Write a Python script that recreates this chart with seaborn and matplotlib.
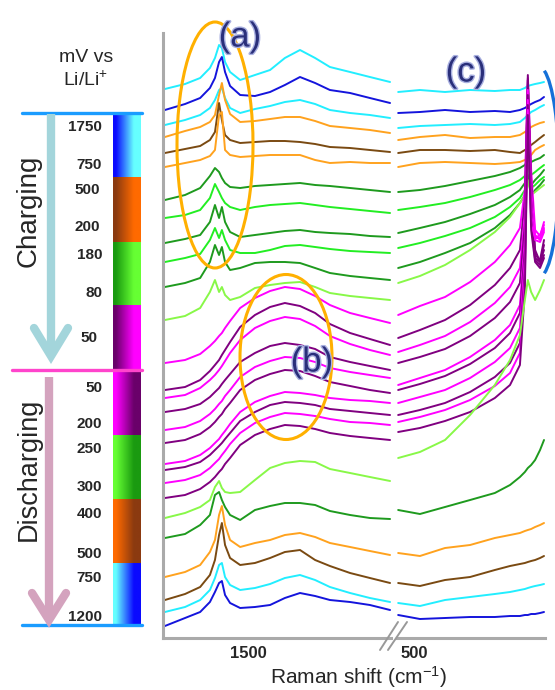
import numpy as np
import pandas as pd
import matplotlib
matplotlib.use("Agg")
import matplotlib.pyplot as plt
import seaborn as sns
from matplotlib.patches import Ellipse, Arc
import matplotlib.patheffects as pe

# ---------------- data ----------------
left_shift = [1764, 1700, 1652, 1621, 1605, 1592, 1583, 1573, 1557, 1525,
              1478, 1430, 1383, 1335, 1287, 1240, 1176, 1113, 1049]
right_shift = [548, 482, 406, 330, 255, 209, 179, 164, 155, 145, 133, 118, 106]

spectrum_names = ["ch1750", "ch1500", "ch750", "ch500", "ch300", "ch200",
                  "ch180", "ch150", "ch120", "ch100", "ch90", "ch80",
                  "ch50a", "ch50b", "ch50c", "ch50d", "ch50e",
                  "dis50a", "dis50b", "dis100", "dis150", "dis200",
                  "dis250", "dis300", "dis400", "dis500", "dis750", "dis1200"]

CY, BL, OR, BR = "#22EEFF", "#1414DC", "#FFA21E", "#7A4A12"
DG, BG, LG, MG, PU = "#1E9A1E", "#22EE22", "#88F848", "#FF00FF", "#800080"
spectrum_colors = [CY, BL, CY, OR, BR, OR,
                   DG, BG, DG, BG, DG, LG,
                   MG, PU, MG, PU, MG, PU, MG, PU, MG, PU,
                   LG, DG, OR, BR, CY, BL]

# intensities (a.u., stacked offsets) sampled at left_shift
top_left = [
    [551, 556, 562, 572, 582, 595, 592, 578, 568, 560, 565, 570, 582, 590, 582, 573, 568, 563, 558],
    [530, 536, 542, 552, 562, 578, 583, 568, 554, 545, 544, 548, 555, 563, 557, 550, 547, 542, 537],
    [515, 520, 525, 532, 540, 550, 552, 542, 532, 527, 531, 534, 538, 540, 536, 530, 527, 525, 522],
    [503, 509, 513, 518, 525, 545, 557, 540, 526, 518, 519, 521, 523, 523, 519, 514, 512, 510, 507],
    [487, 491, 494, 500, 508, 537, 520, 505, 500, 497, 498, 499, 499, 498, 496, 493, 492, 490, 488],
    [473, 477, 480, 484, 490, 525, 528, 490, 485, 483, 484, 485, 485, 485, 480, 477, 478, 477, 477],
]
green_left = [
    [440, 445, 452, 464, 472, 468, 462, 457, 453, 452, 454, 455, 456, 457, 455, 454, 452, 450, 448],
    [422, 425, 430, 442, 456, 448, 442, 437, 433, 430, 433, 435, 436, 437, 435, 433, 431, 429, 427],
    [397, 401, 405, 418, 435, 422, 433, 418, 408, 403, 405, 407, 409, 410, 408, 407, 406, 404, 403],
    [378, 382, 386, 400, 412, 402, 410, 400, 390, 387, 387, 390, 394, 395, 393, 391, 389, 388, 387],
    [353, 357, 362, 378, 395, 385, 393, 378, 370, 372, 377, 378, 378, 377, 372, 367, 364, 362, 360],
    [320, 324, 332, 348, 360, 348, 353, 345, 340, 343, 352, 355, 357, 358, 353, 347, 344, 342, 340],
]
lithiated_left = [
    [277, 280, 286, 294, 299, 304, 307, 312, 319, 332, 342, 349, 353, 351, 344, 335, 327, 322, 317],
    [250, 253, 260, 269, 275, 280, 285, 290, 298, 313, 325, 333, 337, 334, 327, 316, 307, 301, 295],
    [242, 245, 252, 260, 265, 270, 274, 279, 287, 300, 312, 319, 323, 321, 314, 304, 296, 290, 285],
    [228, 231, 236, 243, 248, 252, 256, 260, 266, 278, 287, 294, 297, 295, 291, 283, 278, 274, 270],
    [210, 213, 219, 226, 231, 236, 239, 244, 250, 263, 273, 279, 283, 282, 278, 272, 268, 265, 262],
    [197, 200, 206, 213, 218, 223, 226, 231, 237, 250, 260, 266, 270, 269, 264, 258, 254, 250, 247],
    [176, 179, 185, 192, 197, 201, 205, 209, 216, 228, 238, 244, 248, 247, 245, 242, 240, 239, 237],
    [170, 173, 178, 185, 190, 194, 197, 201, 207, 219, 228, 235, 238, 237, 235, 231, 229, 227, 225],
    [157, 160, 165, 172, 177, 181, 185, 189, 196, 207, 217, 223, 227, 226, 224, 221, 218, 217, 215],
    [142, 145, 151, 158, 163, 168, 171, 176, 182, 195, 205, 211, 215, 214, 211, 207, 204, 202, 200],
]
bottom_left = [
    [122, 127, 133, 140, 153, 159, 152, 148, 147, 148, 160, 172, 177, 179, 178, 171, 167, 163, 159],
    [102, 106, 115, 125, 145, 148, 140, 133, 125, 120, 130, 134, 137, 137, 135, 129, 125, 122, 121],
    [63, 68, 75, 88, 100, 125, 134, 115, 100, 93, 97, 100, 105, 107, 103, 97, 93, 89, 85],
    [40, 46, 53, 65, 80, 105, 117, 95, 82, 75, 77, 82, 88, 90, 80, 74, 67, 62, 57],
    [28, 33, 40, 50, 62, 75, 77, 63, 55, 50, 52, 56, 62, 65, 60, 53, 47, 42, 38],
    [14, 22, 28, 38, 48, 57, 59, 45, 37, 32, 33, 35, 42, 47, 44, 40, 38, 35, 30],
]

# intensities sampled at right_shift
top_right = [
    [548, 550, 548, 550, 549, 550, 550, 552, 554, 555, 556, 557, 558],
    [527, 528, 530, 528, 529, 528, 530, 532, 534, 536, 538, 540, 543],
    [512, 514, 515, 516, 515, 516, 518, 522, 525, 528, 530, 533, 535],
    [500, 503, 505, 502, 503, 503, 505, 508, 510, 513, 515, 517, 518],
    [487, 490, 490, 489, 490, 488, 487, 490, 492, 495, 498, 502, 505],
    [473, 477, 478, 477, 476, 477, 478, 480, 482, 485, 490, 493, 495],
]
green_right = [
    [448, 450, 454, 459, 464, 468, 472, 475, 480, 478, 480, 482, 485],
    [430, 433, 437, 443, 450, 455, 460, 464, 470, 465, 468, 472, 475],
    [407, 412, 418, 426, 435, 443, 450, 457, 475, 455, 460, 465, 470],
    [392, 397, 404, 412, 423, 433, 442, 450, 470, 452, 455, 460, 463],
    [372, 378, 387, 397, 412, 425, 437, 445, 465, 445, 450, 455, 460],
    [357, 364, 375, 390, 408, 423, 437, 445, 460, 445, 448, 452, 455],
]
lithiated_right = [
    [325, 334, 343, 358, 378, 395, 412, 450, 562, 470, 410, 404, 418],
    [302, 310, 320, 335, 355, 372, 390, 440, 565, 460, 390, 378, 395],
    [288, 295, 304, 318, 337, 353, 372, 425, 555, 450, 405, 400, 412],
    [277, 283, 291, 304, 322, 338, 357, 415, 560, 440, 385, 380, 400],
    [255, 262, 270, 283, 300, 315, 335, 400, 550, 435, 402, 402, 410],
    [250, 256, 264, 276, 292, 307, 327, 390, 545, 430, 382, 378, 390],
    [237, 243, 250, 262, 278, 292, 312, 380, 540, 425, 400, 398, 408],
    [225, 230, 237, 248, 263, 277, 297, 370, 535, 420, 380, 375, 385],
    [218, 223, 230, 240, 254, 267, 287, 360, 530, 415, 402, 405, 415],
    [208, 212, 219, 228, 242, 255, 275, 350, 525, 410, 378, 372, 382],
]
bottom_right = [
    [182, 188, 200, 225, 255, 280, 305, 340, 360, 348, 340, 350, 360],
    [130, 126, 133, 140, 147, 155, 163, 168, 172, 175, 180, 190, 200],
    [87, 84, 92, 95, 102, 105, 107, 109, 110, 111, 113, 115, 117],
    [57, 54, 60, 63, 70, 74, 76, 77, 78, 79, 80, 82, 84],
    [37, 34, 40, 43, 46, 48, 50, 51, 52, 53, 54, 55, 56],
    [25, 21, 22, 23, 23, 24, 24, 25, 25, 26, 26, 27, 28],
]

left_ticks = [1700, 1600, 1500, 1400, 1300, 1200, 1100]
left_ticklabels = ["", "", "1500", "", "", "", ""]
right_ticks = [500, 400, 300, 200]
right_ticklabels = ["500", "", "", ""]

cb_labels = ["1750", "750", "500", "200", "180", "80", "50",
             "50", "200", "250", "300", "400", "500", "750", "1200"]
cb_gradients = [("#0A0AFF", "#66FFFF"), ("#8B3A10", "#FF6A00"),
                ("#1A9A10", "#66FF33"), ("#6A006A", "#FF00FF"),
                ("#FF00FF", "#6A006A"), ("#66FF33", "#1A9A10"),
                ("#FF6A00", "#8B3A10"), ("#66FFFF", "#0A0AFF")]

# ---------------- build tables ----------------
def long_table(shift, groups):
    rows = []
    k = 0
    for g in groups:
        for vals in g:
            for s, v in zip(shift, vals):
                rows.append((s, v, spectrum_names[k]))
            k += 1
    return pd.DataFrame(rows, columns=["shift", "intensity", "spectrum"])

df_left = long_table(left_shift, [top_left, green_left, lithiated_left, bottom_left])
df_right = long_table(right_shift, [top_right, green_right, lithiated_right, bottom_right])
palette = dict(zip(spectrum_names, spectrum_colors))

# ---------------- figure ----------------
sns.set_style("white")
plt.rcParams["font.family"] = ["Liberation Sans", "DejaVu Sans"]
plt.rcParams["mathtext.default"] = "regular"

W, H = 555, 690
fig = plt.figure(figsize=(5.55, 6.9), dpi=100)
ax1 = fig.add_axes([163 / W, 1 - 638 / H, (391 - 163) / W, (638 - 33) / H])
ax2 = fig.add_axes([397 / W, 1 - 638 / H, (545 - 397) / W, (638 - 33) / H])

for ax, df in ((ax1, df_left), (ax2, df_right)):
    sns.lineplot(data=df, x="shift", y="intensity", hue="spectrum",
                 hue_order=spectrum_names, palette=palette, estimator=None,
                 sort=False, legend=False, linewidth=1.4, ax=ax)
    ax.set_ylim(2, 607)
    ax.set_yticks([])
    ax.set_xlabel("")
    ax.set_ylabel("")
    ax.patch.set_alpha(0)
    for side in ("top", "right", "left"):
        ax.spines[side].set_visible(False)
    ax.spines["bottom"].set_color("#AAAAAA")
    ax.spines["bottom"].set_linewidth(2.2)
    ax.tick_params(axis="x", direction="in", length=4, width=1.0,
                   color="#555555", pad=6.0, labelsize=12)

ax1.spines["left"].set_visible(True)
ax1.spines["left"].set_color("#AAAAAA")
ax1.spines["left"].set_linewidth(2.2)
ax1.set_xlim(1770, 1046)
ax2.set_xlim(551.5, 103)
ax1.set_xticks(left_ticks)
ax1.set_xticklabels(left_ticklabels, fontweight="bold")
ax2.set_xticks(right_ticks)
ax2.set_xticklabels(right_ticklabels, fontweight="bold")

# ---------------- overlay (annotations, left panel) ----------------
ax0 = fig.add_axes([0, 0, 1, 1])
ax0.set_zorder(5)
ax0.patch.set_alpha(0)

# colour bar
cb_bounds = [(115, 177), (177, 242), (242, 305), (305, 369),
             (371, 435), (435, 499), (499, 563), (563, 624)]
xs = np.linspace(0, 1, 64)
ramp = np.clip((xs - 0.1) / 0.65, 0, 1)
for (y0, y1), (c0, c1) in zip(cb_bounds, cb_gradients):
    a = np.array(matplotlib.colors.to_rgb(c0))
    b = np.array(matplotlib.colors.to_rgb(c1))
    img = (a[None, :] * (1 - ramp[:, None]) + b[None, :] * ramp[:, None])[None, :, :]
    ax0.imshow(img, extent=[113, 141, y1, y0], aspect="auto",
               interpolation="bilinear")

ax0.plot([22, 142], [113, 113], color="#1A9CFF", lw=2.4, solid_capstyle="round")
ax0.plot([12, 142], [370, 370], color="#FF44CC", lw=2.4, solid_capstyle="round")
ax0.plot([22, 142], [625, 625], color="#1A9CFF", lw=2.4, solid_capstyle="round")

cb_label_y = [127, 165, 190, 227, 255, 293, 338, 388, 424, 449, 487, 514, 554, 578, 617]
cb_label_x = [102, 102, 100, 100, 102, 102, 97, 102, 102, 102, 102, 102, 102, 102, 102]
for lab, x, y in zip(cb_labels, cb_label_x, cb_label_y):
    ax0.text(x, y, lab, ha="right", va="center", fontsize=11, fontweight="bold")

# arrows
ax0.plot([51, 51], [114, 352], color="#A3D5DB", lw=6, solid_capstyle="butt")
ax0.plot([34, 51, 68], [328, 356, 328], color="#A3D5DB", lw=6,
         solid_capstyle="round", solid_joinstyle="miter")
ax0.plot([48.5, 48.5], [377, 616], color="#D4A3BE", lw=6, solid_capstyle="butt")
ax0.plot([32, 49, 66], [593, 620, 593], color="#D4A3BE", lw=6,
         solid_capstyle="round", solid_joinstyle="miter")

ax0.text(29, 211, "Charging", rotation=90, ha="center", va="center", fontsize=20)
ax0.text(29, 469, "Discharging", rotation=90, ha="center", va="center", fontsize=19.5)
ax0.text(86, 57, "mV vs", ha="center", va="center", fontsize=14)
ax0.text(86, 80, r"Li/Li$^{+}$", ha="center", va="center", fontsize=14)

# ellipses and labels
ax0.add_patch(Ellipse((215, 145), 76, 246, fill=False, ec="#FFB000", lw=2.2))
ax0.add_patch(Ellipse((286, 357), 92, 165, fill=False, ec="#FFB000", lw=2.2))
ax0.add_patch(Arc((539, 172), 40, 210, theta1=-87, theta2=87, ec="#1570D8", lw=2.4))

lab_fx = [pe.withStroke(linewidth=2.0, foreground="#A9B0E0")]
for txt, x, y in (("(a)", 240, 37), ("(b)", 312, 362), ("(c)", 466, 72)):
    ax0.text(x, y, txt, ha="center", va="center", fontsize=25,
             color="#2A2F7A", path_effects=lab_fx)

# axis break marks
ax0.plot([380, 398], [650, 622], color="#999999", lw=1.4)
ax0.plot([388, 407], [650, 622], color="#999999", lw=1.4)

ax0.text(358, 677, r"Raman shift (cm$^{-1}$)", ha="center", va="center", fontsize=15)

ax0.set_xlim(0, W)
ax0.set_ylim(H, 0)
ax0.axis("off")

fig.savefig("out.png", dpi=100)
